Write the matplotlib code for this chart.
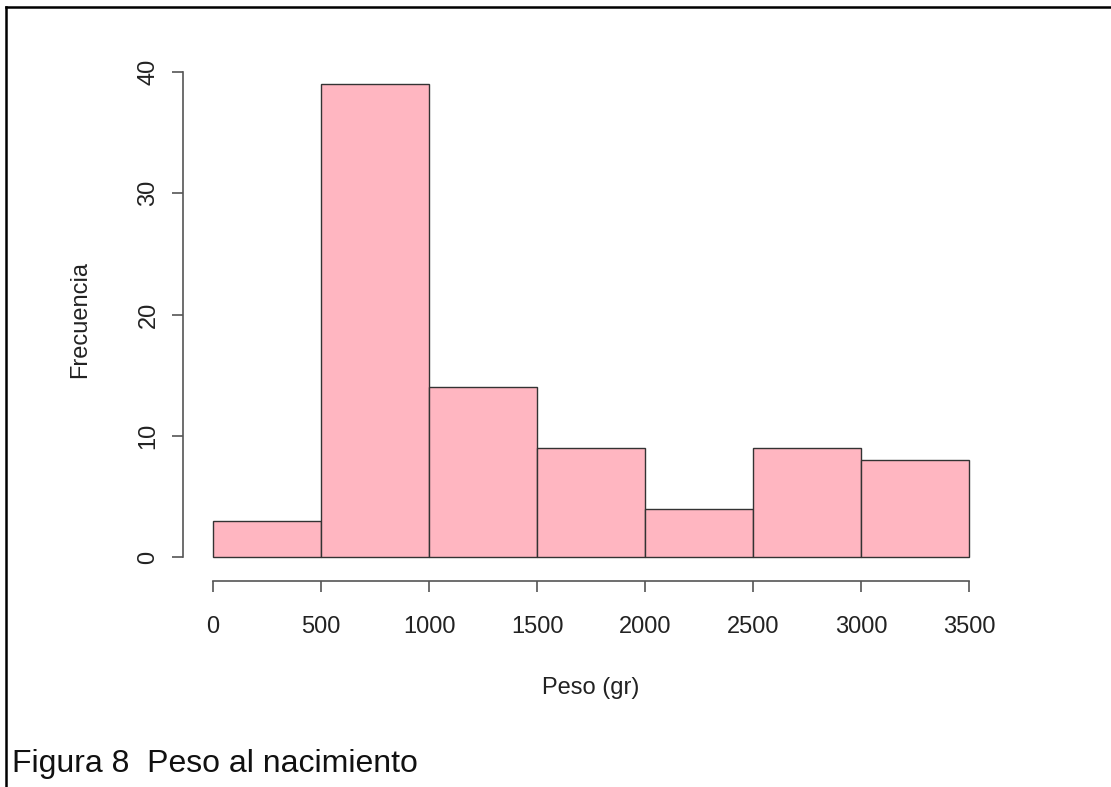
import numpy as np
import matplotlib
matplotlib.use("Agg")
import matplotlib.pyplot as plt
from matplotlib.lines import Line2D

plt.rcParams['font.family'] = ['Liberation Sans', 'DejaVu Sans']

# histogram data
bin_edges = [0, 500, 1000, 1500, 2000, 2500, 3000, 3500]
counts = [3, 39, 14, 9, 4, 9, 8]
x_ticks = [0, 500, 1000, 1500, 2000, 2500, 3000, 3500]
y_ticks = [0, 10, 20, 30, 40]

W, H = 1111, 787
fig = plt.figure(figsize=(W / 100, H / 100), dpi=100)

# axes covers the data region exactly (pixel estimates from the reference)
ax = fig.add_axes([213 / W, (H - 557) / H, 756 / W, 485 / H])

edges = np.array(bin_edges)
bars = ax.bar(edges[:-1], counts, width=np.diff(edges), align='edge',
              color='#ffb6c1', edgecolor='#333333', linewidth=1.0)
for b in bars:
    b.set_clip_on(False)

ax.set_xlim(0, 3500)
ax.set_ylim(0, 40)

# R style detached axes
for s in ['top', 'right']:
    ax.spines[s].set_visible(False)
ax.spines['left'].set_position(('outward', 30 * 72 / 100))
ax.spines['bottom'].set_position(('outward', 24 * 72 / 100))
ax.spines['left'].set_bounds(0, 40)
ax.spines['bottom'].set_bounds(0, 3500)
for s in ['left', 'bottom']:
    ax.spines[s].set_color('#555555')
    ax.spines[s].set_linewidth(1.2)

ax.set_xticks(x_ticks)
ax.set_yticks(y_ticks)
ax.set_xticklabels([str(v) for v in x_ticks], fontsize=17, color='#222222')
ax.set_yticklabels([str(v) for v in y_ticks], fontsize=17, color='#222222',
                   rotation=90, va='center')
ax.tick_params(axis='both', direction='out', length=8, width=1.2, color='#555555')
ax.tick_params(axis='x', pad=17.5)
ax.tick_params(axis='y', pad=9)

fig.text(591 / W, 1 - 688 / H, 'Peso (gr)', ha='center', va='center',
         fontsize=17, color='#222222')
fig.text(80 / W, 1 - 319 / H, 'Frecuencia', ha='center', va='center',
         rotation=90, fontsize=17, color='#222222')

fig.text(12 / W, 1 - 764 / H, 'Figura 8  Peso al nacimiento', ha='left',
         va='center', fontsize=23, color='#111111')

# frame around the figure (top and left only)
fig.add_artist(Line2D([6 / W, 1], [1 - 7 / H, 1 - 7 / H], color='black',
                      linewidth=1.8, transform=fig.transFigure))
fig.add_artist(Line2D([6 / W, 6 / W], [0, 1 - 7 / H], color='black',
                      linewidth=1.8, transform=fig.transFigure))

plt.savefig("out.png", dpi=100)
